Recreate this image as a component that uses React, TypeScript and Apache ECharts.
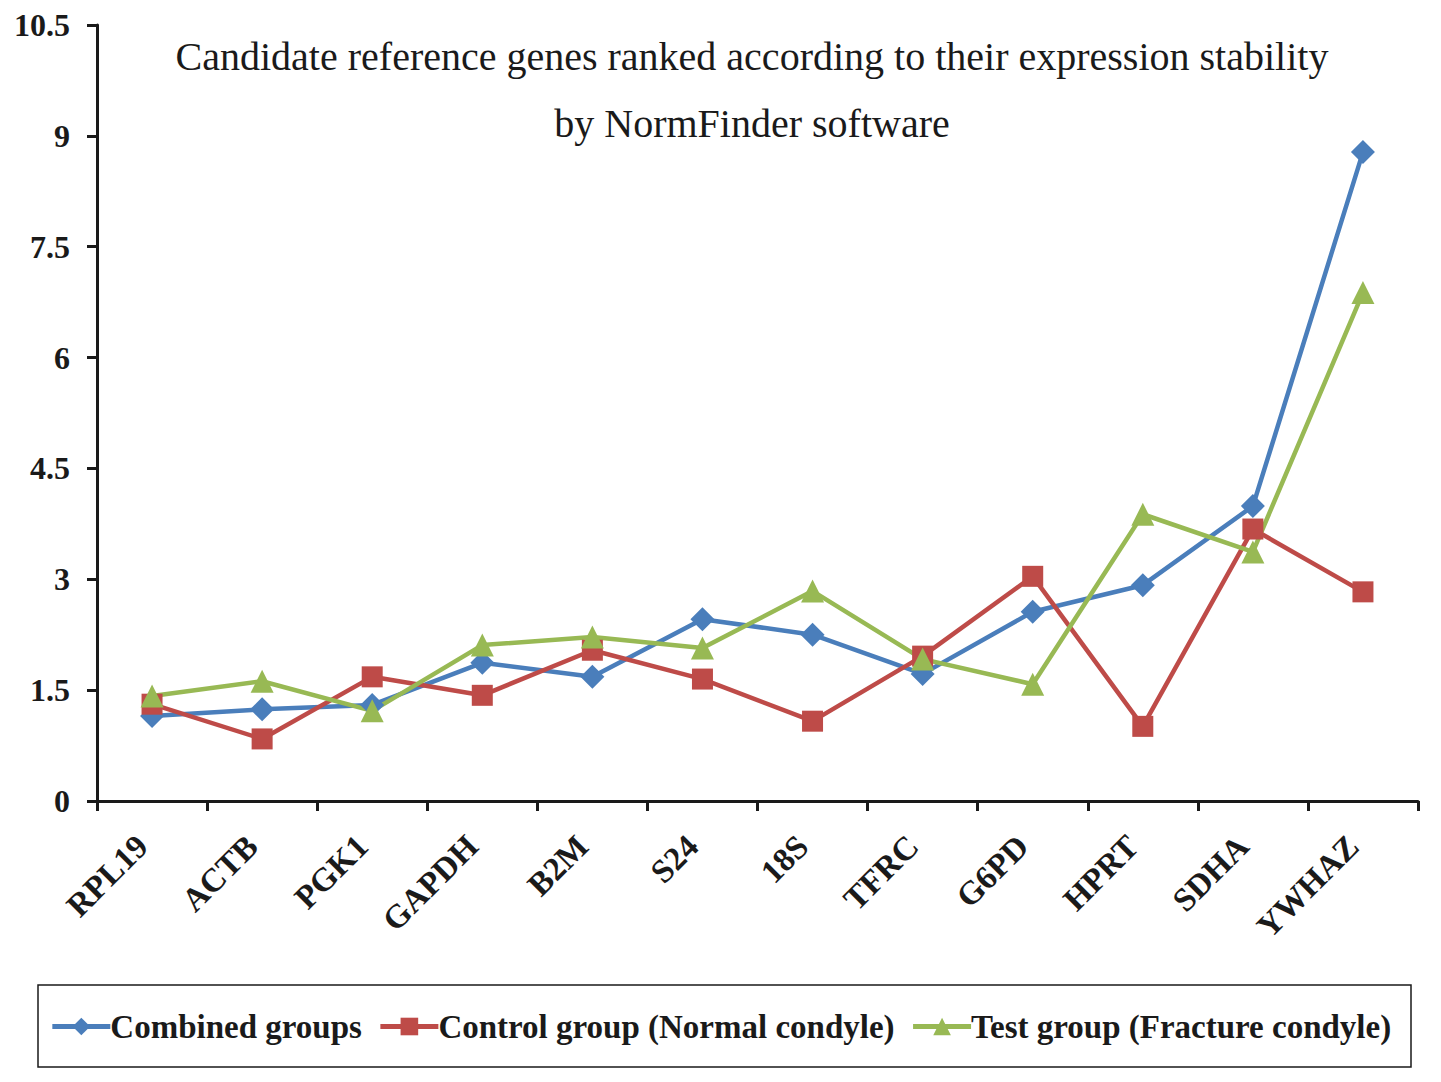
import React, { useEffect, useRef } from "react";
import * as echarts from "echarts";

const categories = ["RPL19", "ACTB", "PGK1", "GAPDH", "B2M", "S24", "18S", "TFRC", "G6PD", "HPRT", "SDHA", "YWHAZ"];
const combined = [1.15, 1.24, 1.3, 1.87, 1.68, 2.46, 2.25, 1.72, 2.56, 2.92, 3.99, 8.78];
const control = [1.31, 0.84, 1.68, 1.43, 2.04, 1.65, 1.08, 1.96, 3.04, 1.01, 3.68, 2.83];
const test = [1.42, 1.62, 1.22, 2.11, 2.22, 2.07, 2.84, 1.92, 1.58, 3.88, 3.37, 6.88];
const seriesNames = ["Combined groups", "Control group (Normal condyle)", "Test group (Fracture condyle)"];
const titleText = "Candidate reference genes ranked according to their expression stability\nby NormFinder software";

const SERIF = "'Liberation Serif', 'Times New Roman', serif";

export default function App() {
  const ref = useRef<HTMLDivElement>(null);
  useEffect(() => {
    const chart = echarts.init(ref.current!, null, { renderer: "svg" });
    const mk = (name: string, data: number[], color: string, symbol: string, size: number) => ({
      name,
      type: "line",
      data,
      symbol,
      symbolSize: size,
      showAllSymbol: true,
      lineStyle: { color, width: 4.5 },
      itemStyle: { color },
      z: 3,
    });
    chart.setOption({
      animation: false,
      backgroundColor: "#ffffff",
      title: {
        text: titleText,
        left: 739,
        top: 10,
        textAlign: "center",
        textStyle: { fontFamily: SERIF, fontSize: 40, fontWeight: "normal", color: "#1a1a1a", lineHeight: 67 },
      },
      grid: { left: 89, right: 15, top: 17, bottom: 273, containLabel: false },
      xAxis: {
        type: "category",
        data: categories,
        boundaryGap: true,
        axisLine: { lineStyle: { color: "#1a1a1a", width: 3 } },
        axisTick: { show: true, inside: false, length: 10, lineStyle: { color: "#1a1a1a", width: 3 } },
        axisLabel: {
          rotate: 45,
          margin: 30,
          padding: [0, 14, 0, 0],
          fontFamily: SERIF,
          fontSize: 33,
          fontWeight: "bold",
          color: "#1a1a1a",
          interval: 0,
        },
      },
      yAxis: {
        type: "value",
        min: 0,
        max: 10.5,
        interval: 1.5,
        splitLine: { show: false },
        axisLine: { show: true, lineStyle: { color: "#1a1a1a", width: 3 } },
        axisTick: { show: true, length: 10, lineStyle: { color: "#1a1a1a", width: 3 } },
        axisLabel: {
          margin: 27,
          fontFamily: SERIF,
          fontSize: 32,
          fontWeight: "bold",
          color: "#1a1a1a",
        },
      },
      legend: {
        top: 997,
        left: "center",
        itemWidth: 58,
        itemHeight: 22,
        itemGap: 16,
        lineStyle: { width: 5 },
        textStyle: { fontFamily: SERIF, fontSize: 33, fontWeight: "bold", color: "#1a1a1a", padding: [0, 0, 0, -5] },
        data: seriesNames,
      },
      graphic: [
        {
          type: "rect",
          shape: { x: 30, y: 977, width: 1373, height: 82 },
          style: { fill: "none", stroke: "#1a1a1a", lineWidth: 1.5 },
          silent: true,
        },
      ],
      series: [
        mk(seriesNames[0], combined, "#4A7EBB", "diamond", 24),
        mk(seriesNames[1], control, "#BE4B48", "rect", 21),
        mk(seriesNames[2], test, "#98B954", "triangle", 23),
      ],
    });
    return () => chart.dispose();
  }, []);
  return <div ref={ref} style={{ width: 1425, height: 1066 }} />;
}
